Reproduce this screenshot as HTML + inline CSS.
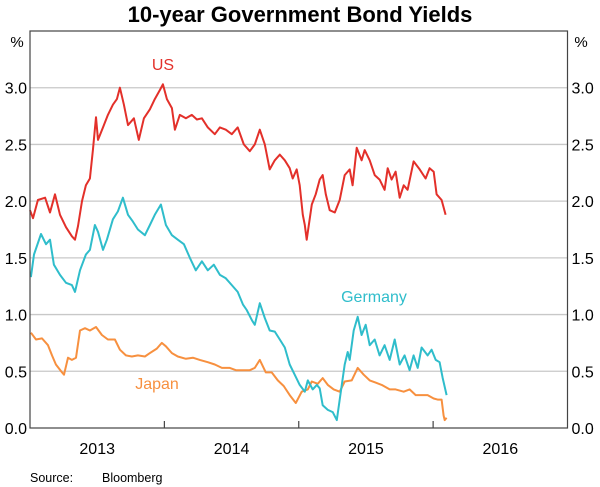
<!DOCTYPE html>
<html><head><meta charset="utf-8"><style>
html,body{margin:0;padding:0;background:#fff;}
svg{display:block;font-family:"Liberation Sans",Arial,sans-serif;}
</style></head><body>
<svg id="chart" width="600" height="487" viewBox="0 0 600 487">
<text x="300" y="22" text-anchor="middle" font-size="22" font-weight="bold" fill="#000">10-year Government Bond Yields</text>
<g id="grid"></g>
<g id="series"></g>
<g id="axes"></g>
<text x="30" y="482" font-size="12.5" fill="#000">Source:</text>
<text x="102" y="482" font-size="12.5" fill="#000">Bloomberg</text>
</svg>
<script>
const yTicks = [0, 0.5, 1.0, 1.5, 2.0, 2.5, 3.0];
const yTickLabels = ["0.0","0.5","1.0","1.5","2.0","2.5","3.0"];
const yearTicks = [2014, 2015, 2016];
const yearLabels = ["2013","2014","2015","2016"];

const usDates = [2013.000,2013.022,2013.059,2013.112,2013.149,2013.186,2013.223,2013.268,2013.312,2013.335,2013.357,2013.387,2013.416,2013.446,2013.468,2013.491,2013.506,2013.543,2013.580,2013.617,2013.647,2013.669,2013.699,2013.729,2013.773,2013.810,2013.848,2013.892,2013.929,2013.967,2013.989,
2014.019,2014.056,2014.078,2014.115,2014.160,2014.204,2014.242,2014.279,2014.323,2014.375,2014.413,2014.457,2014.502,2014.546,2014.591,2014.636,2014.673,2014.710,2014.747,2014.784,2014.822,2014.859,2014.896,2014.933,2014.955,2014.985,
2015.007,2015.030,2015.045,2015.059,2015.097,2015.126,2015.156,2015.178,2015.201,2015.230,2015.268,2015.305,2015.342,2015.379,2015.401,2015.431,2015.468,2015.491,2015.528,2015.565,2015.602,2015.639,2015.662,2015.691,2015.721,2015.751,2015.781,2015.810,2015.855,2015.900,2015.944,2015.974,
2016.004,2016.026,2016.063,2016.093];
const usYields = [1.92,1.85,2.01,2.03,1.90,2.06,1.88,1.77,1.69,1.66,1.78,2.00,2.14,2.20,2.45,2.74,2.54,2.65,2.76,2.85,2.90,3.00,2.85,2.67,2.73,2.54,2.73,2.81,2.90,2.98,3.03,2.90,2.82,2.63,2.76,2.73,2.76,2.72,2.73,2.65,2.59,2.65,2.63,2.59,2.65,2.50,2.44,2.50,2.63,2.50,2.28,2.36,2.41,2.36,2.29,2.20,2.28,2.14,1.88,1.79,1.66,1.97,2.06,2.19,2.23,2.06,1.92,1.90,2.01,2.23,2.28,2.14,2.47,2.36,2.45,2.36,2.23,2.19,2.10,2.29,2.19,2.26,2.03,2.14,2.10,2.35,2.28,2.20,2.29,2.26,2.06,2.01,1.88];

const deDates = [2013.007,2013.030,2013.082,2013.119,2013.149,2013.178,2013.223,2013.268,2013.312,2013.335,2013.372,2013.416,2013.446,2013.483,2013.506,2013.543,2013.572,2013.617,2013.654,2013.691,2013.729,2013.766,2013.803,2013.855,2013.892,2013.929,2013.974,
2014.011,2014.056,2014.100,2014.145,2014.190,2014.234,2014.279,2014.323,2014.368,2014.413,2014.457,2014.502,2014.546,2014.584,2014.613,2014.651,2014.673,2014.710,2014.747,2014.784,2014.822,2014.859,2014.896,2014.933,2014.970,
2015.007,2015.045,2015.067,2015.104,2015.134,2015.156,2015.178,2015.216,2015.253,2015.283,2015.305,2015.342,2015.364,2015.379,2015.409,2015.439,2015.468,2015.498,2015.528,2015.565,2015.602,2015.639,2015.677,2015.714,2015.751,2015.788,2015.825,2015.855,2015.885,2015.914,2015.959,2015.989,
2016.019,2016.048,2016.071,2016.100];
const deYields = [1.33,1.53,1.71,1.62,1.66,1.44,1.35,1.28,1.26,1.20,1.39,1.53,1.57,1.79,1.73,1.57,1.66,1.84,1.91,2.03,1.88,1.82,1.75,1.70,1.79,1.88,1.97,1.79,1.70,1.66,1.62,1.50,1.39,1.47,1.39,1.44,1.35,1.32,1.26,1.20,1.09,1.04,0.95,0.91,1.10,0.97,0.86,0.85,0.78,0.71,0.56,0.47,0.38,0.32,0.42,0.34,0.38,0.35,0.20,0.16,0.14,0.07,0.25,0.56,0.67,0.60,0.86,0.98,0.82,0.91,0.73,0.78,0.64,0.73,0.60,0.78,0.56,0.64,0.51,0.64,0.53,0.71,0.64,0.69,0.60,0.58,0.44,0.29];

const jpDates = [2013.007,2013.045,2013.089,2013.134,2013.164,2013.193,2013.238,2013.253,2013.283,2013.312,2013.342,2013.372,2013.409,2013.446,2013.491,2013.535,2013.580,2013.632,2013.669,2013.714,2013.758,2013.803,2013.855,2013.892,2013.944,2013.981,
2014.011,2014.056,2014.100,2014.160,2014.212,2014.264,2014.323,2014.375,2014.428,2014.487,2014.532,2014.599,2014.636,2014.673,2014.710,2014.755,2014.799,2014.844,2014.888,2014.933,2014.978,
2015.022,2015.067,2015.097,2015.141,2015.178,2015.216,2015.260,2015.305,2015.342,2015.394,2015.439,2015.483,2015.528,2015.572,2015.617,2015.677,2015.721,2015.781,2015.825,2015.870,2015.914,2015.959,
2016.004,2016.033,2016.063,2016.078,2016.086,2016.100];
const jpYields = [0.84,0.78,0.79,0.73,0.64,0.56,0.49,0.47,0.62,0.60,0.62,0.86,0.88,0.86,0.89,0.82,0.78,0.78,0.69,0.64,0.63,0.64,0.63,0.66,0.70,0.75,0.72,0.66,0.63,0.61,0.62,0.60,0.58,0.56,0.53,0.53,0.51,0.51,0.51,0.53,0.60,0.49,0.49,0.42,0.37,0.29,0.22,0.32,0.34,0.41,0.39,0.44,0.38,0.34,0.32,0.41,0.42,0.53,0.47,0.42,0.40,0.38,0.34,0.34,0.32,0.34,0.29,0.29,0.29,0.26,0.25,0.25,0.11,0.07,0.09];

const L = 30, R = 567.5, T = 31, B = 428;
const xMin = 2013, xMax = 2017, yMin = 0, yMax = 3.5;
function xs(t){ return L + (t - xMin) / (xMax - xMin) * (R - L); }
function ys(v){ return B - (v - yMin) / (yMax - yMin) * (B - T); }
const NS = "http://www.w3.org/2000/svg";
function mk(tag, attrs, parent){ const e = document.createElementNS(NS, tag); for (const k in attrs) e.setAttribute(k, attrs[k]); parent.appendChild(e); return e; }

const grid = document.getElementById('grid');
yTicks.forEach((v, i) => {
  if (v > 0) {
    const g = mk('line', {x1: L, x2: R, y1: ys(v), y2: ys(v), stroke: '#c8c8c8', 'stroke-width': 1.3}, grid);
    
    
  }
  const tl = mk('text', {x: L - 3, y: ys(v) + 6, 'text-anchor': 'end', 'font-size': 16, fill: '#000'}, grid);
  tl.textContent = yTickLabels[i];
  
  
  const tr = mk('text', {x: R + 4, y: ys(v) + 6, 'text-anchor': 'start', 'font-size': 16, fill: '#000'}, grid);
  tr.textContent = yTickLabels[i];
  
  
});
const pl = mk('text', {x: 17, y: 47, 'text-anchor': 'middle', 'font-size': 15, fill: '#000'}, grid);
pl.textContent = '%';


const pr = mk('text', {x: 581, y: 47, 'text-anchor': 'middle', 'font-size': 15, fill: '#000'}, grid);
pr.textContent = '%';



const series = document.getElementById('series');
function drawLine(dates, vals, color, name){
  let d = '';
  dates.forEach((t, i) => { d += (i ? 'L' : 'M') + xs(t).toFixed(1) + ' ' + ys(vals[i]).toFixed(1); });
  const p = mk('path', {d: d, fill: 'none', stroke: color, 'stroke-width': 2, 'stroke-linejoin': 'round'}, series);
  
  
}
drawLine(jpDates, jpYields, '#f7903f', 'japan-line');
drawLine(deDates, deYields, '#2fbdcb', 'germany-line');
drawLine(usDates, usYields, '#e3302a', 'us-line');

const l1 = mk('text', {x: 163, y: 70, 'text-anchor': 'middle', 'font-size': 16, fill: '#e3302a'}, series);
l1.textContent = 'US';


const l2 = mk('text', {x: 374, y: 302, 'text-anchor': 'middle', 'font-size': 16, fill: '#2fbdcb'}, series);
l2.textContent = 'Germany';


const l3 = mk('text', {x: 157, y: 389, 'text-anchor': 'middle', 'font-size': 16, fill: '#f7903f'}, series);
l3.textContent = 'Japan';



const axes = document.getElementById('axes');
const frame = mk('rect', {x: L, y: T, width: R - L, height: B - T, fill: 'none', stroke: '#444', 'stroke-width': 1.2}, axes);


yearTicks.forEach(yr => {
  const tk = mk('line', {x1: xs(yr), x2: xs(yr), y1: B, y2: B - 7, stroke: '#444', 'stroke-width': 1.2}, axes);
  
  
});
yearLabels.forEach(lab => {
  const yr = parseInt(lab, 10);
  const t = mk('text', {x: xs(yr + 0.5), y: 454, 'text-anchor': 'middle', 'font-size': 16, fill: '#000'}, axes);
  t.textContent = lab;
  
  
});
</script>
</body></html>
